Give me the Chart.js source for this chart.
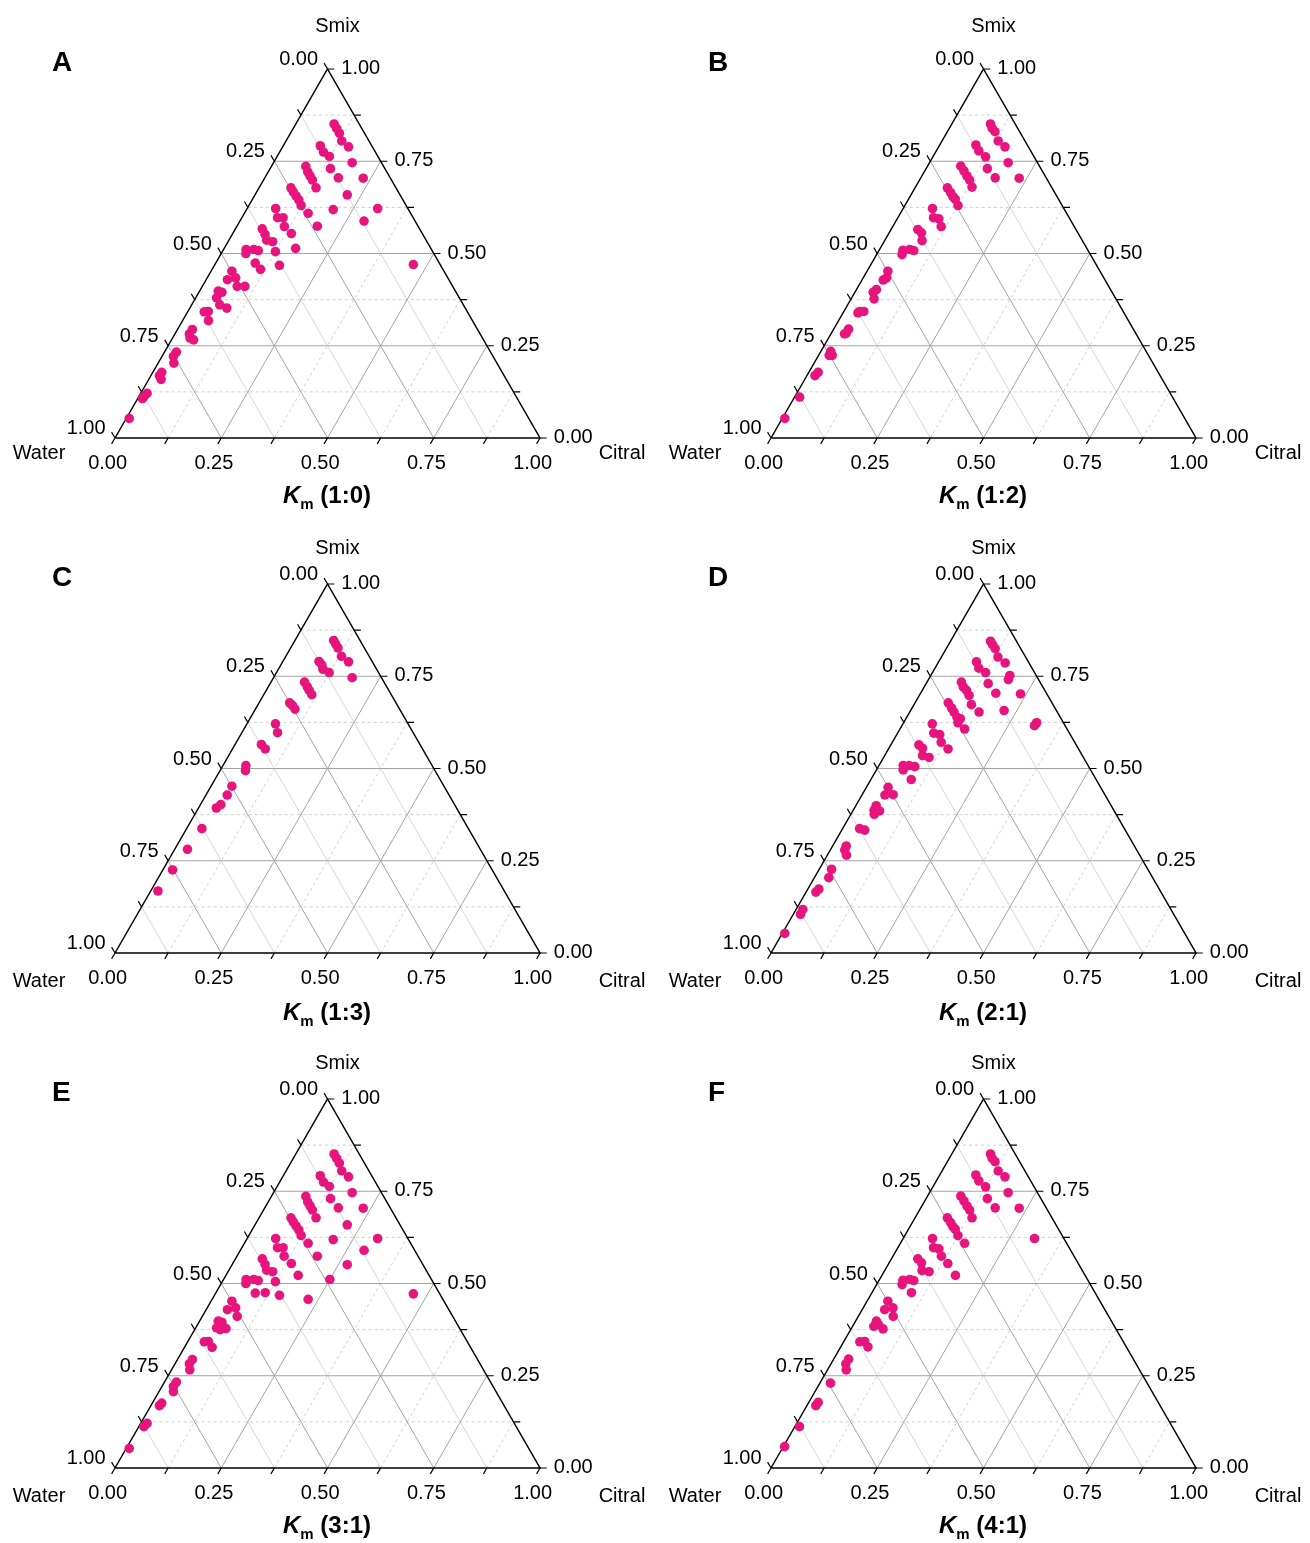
<!DOCTYPE html>
<html><head><meta charset="utf-8">
<script src="https://cdn.jsdelivr.net/npm/chart.js"></script>
<style>
html,body{margin:0;padding:0;background:#fff;}
body{width:1310px;height:1543px;position:relative;overflow:hidden;font-family:"Liberation Sans",Arial,sans-serif;color:#000;}
.panel{position:absolute;width:655px;height:515px;}
.panel canvas{position:absolute;left:0;top:0;}
.letter{position:absolute;left:52px;top:48px;font-weight:bold;font-size:28px;line-height:28px;}
.ttl{position:absolute;left:177px;width:300px;text-align:center;font-weight:bold;font-size:24px;line-height:24px;white-space:nowrap;}
.ttl sub{font-size:15px;line-height:0;vertical-align:baseline;position:relative;top:6px;}
</style></head><body>
<script>
// ---------- labels ----------
const panelLetters = ['A','B','C','D','E','F'];
const ratioLabels  = ['1:0','1:2','1:3','2:1','3:1','4:1'];
const axisNames    = ['Water','Citral','Smix'];
const tickValues   = [0, 0.25, 0.5, 0.75, 1];
const tickLabels   = ['0.00','0.25','0.50','0.75','1.00'];
const majorValues  = [0.25, 0.5, 0.75];
const minorValues  = [0.125, 0.375, 0.625, 0.875];
const allTicks     = [0, 0.125, 0.25, 0.375, 0.5, 0.625, 0.75, 0.875, 1];

// ---------- data: mass fractions (Water = 1 - Citral - Smix) ----------
const citralA = [0.090,0.102,0.115,0.131,0.155,0.087,0.103,0.123,0.185,0.142,0.081,0.093,0.104,0.115,0.134,0.173,0.232,0.217,0.075,0.086,0.098,0.110,0.123,0.150,0.204,0.307,0.292,0.189,0.067,0.084,0.097,0.112,0.138,0.063,0.077,0.089,0.105,0.125,0.168,0.053,0.058,0.071,0.083,0.093,0.114,0.153,0.467,0.049,0.050,0.067,0.082,0.100,0.044,0.054,0.049,0.066,0.087,0.039,0.048,0.061,0.035,0.034,0.041,0.052,0.028,0.027,0.037,0.021,0.020,0.029,0.015,0.012,0.011,0.007];
const smixA   = [0.851,0.839,0.826,0.805,0.789,0.792,0.775,0.763,0.746,0.730,0.736,0.721,0.710,0.699,0.678,0.705,0.704,0.659,0.678,0.667,0.656,0.645,0.630,0.609,0.619,0.622,0.588,0.574,0.622,0.597,0.597,0.573,0.554,0.567,0.552,0.536,0.532,0.505,0.514,0.511,0.500,0.511,0.508,0.474,0.457,0.468,0.470,0.452,0.429,0.434,0.411,0.411,0.398,0.395,0.380,0.361,0.352,0.342,0.343,0.318,0.294,0.282,0.271,0.266,0.233,0.221,0.203,0.178,0.169,0.159,0.121,0.112,0.107,0.053];

const citralB = [0.091,0.101,0.112,0.132,0.156,0.085,0.100,0.124,0.185,0.144,0.078,0.092,0.106,0.118,0.133,0.175,0.232,0.076,0.090,0.101,0.110,0.125,0.069,0.084,0.098,0.114,0.063,0.076,0.088,0.056,0.060,0.071,0.082,0.049,0.055,0.050,0.047,0.043,0.054,0.037,0.047,0.035,0.035,0.035,0.032,0.023,0.025,0.032,0.022,0.019,0.012,0.006];
const smixB   = [0.851,0.839,0.830,0.805,0.789,0.794,0.778,0.762,0.746,0.730,0.737,0.724,0.710,0.699,0.680,0.705,0.704,0.678,0.665,0.654,0.647,0.630,0.622,0.597,0.594,0.573,0.565,0.556,0.535,0.509,0.497,0.511,0.508,0.452,0.434,0.428,0.402,0.395,0.377,0.343,0.343,0.339,0.295,0.284,0.282,0.235,0.224,0.224,0.178,0.169,0.111,0.053];

const citralC = [0.091,0.100,0.111,0.131,0.155,0.085,0.096,0.105,0.124,0.185,0.079,0.092,0.101,0.113,0.072,0.082,0.093,0.067,0.084,0.062,0.077,0.054,0.060,0.049,0.050,0.048,0.042,0.036,0.030,0.023,0.017];
const smixC   = [0.847,0.838,0.827,0.804,0.789,0.790,0.781,0.769,0.760,0.746,0.734,0.721,0.712,0.700,0.678,0.671,0.661,0.621,0.597,0.565,0.553,0.508,0.494,0.452,0.428,0.402,0.393,0.337,0.281,0.225,0.168];

const citralD = [0.094,0.103,0.115,0.133,0.158,0.089,0.103,0.125,0.186,0.188,0.146,0.081,0.092,0.104,0.117,0.135,0.163,0.177,0.236,0.220,0.078,0.093,0.104,0.118,0.128,0.128,0.152,0.313,0.312,0.069,0.085,0.101,0.115,0.140,0.066,0.079,0.089,0.107,0.057,0.063,0.071,0.086,0.095,0.051,0.054,0.073,0.048,0.049,0.063,0.055,0.040,0.054,0.032,0.034,0.045,0.029,0.034,0.026,0.023,0.016,0.017,0.006];
const smixD   = [0.845,0.836,0.825,0.802,0.786,0.789,0.772,0.760,0.752,0.741,0.730,0.734,0.721,0.712,0.698,0.673,0.653,0.704,0.702,0.657,0.678,0.664,0.653,0.639,0.635,0.624,0.607,0.624,0.616,0.621,0.596,0.592,0.571,0.553,0.564,0.555,0.535,0.530,0.508,0.496,0.508,0.505,0.470,0.449,0.428,0.429,0.399,0.387,0.385,0.376,0.337,0.333,0.290,0.279,0.265,0.227,0.204,0.173,0.165,0.118,0.105,0.053];

const citralE = [0.090,0.102,0.115,0.131,0.155,0.087,0.103,0.123,0.185,0.142,0.081,0.093,0.104,0.115,0.134,0.173,0.232,0.217,0.075,0.086,0.098,0.110,0.123,0.150,0.204,0.307,0.291,0.189,0.271,0.250,0.067,0.084,0.097,0.111,0.138,0.170,0.063,0.077,0.089,0.105,0.125,0.053,0.058,0.071,0.083,0.093,0.116,0.153,0.226,0.466,0.049,0.050,0.067,0.082,0.044,0.054,0.049,0.060,0.072,0.039,0.048,0.065,0.035,0.034,0.043,0.028,0.027,0.034,0.022,0.020,0.015,0.012,0.007];
const smixE   = [0.851,0.839,0.826,0.805,0.789,0.792,0.775,0.763,0.746,0.730,0.736,0.721,0.710,0.699,0.678,0.705,0.704,0.659,0.678,0.667,0.656,0.645,0.630,0.609,0.619,0.622,0.590,0.574,0.551,0.511,0.622,0.597,0.597,0.574,0.554,0.522,0.567,0.552,0.536,0.532,0.505,0.511,0.500,0.511,0.508,0.474,0.475,0.468,0.457,0.472,0.452,0.429,0.434,0.411,0.398,0.395,0.380,0.375,0.378,0.342,0.343,0.327,0.294,0.282,0.266,0.233,0.221,0.207,0.176,0.169,0.121,0.112,0.053];

const citralF = [0.091,0.101,0.112,0.132,0.156,0.085,0.100,0.124,0.185,0.144,0.175,0.232,0.078,0.092,0.106,0.118,0.134,0.076,0.090,0.101,0.110,0.125,0.151,0.309,0.069,0.084,0.098,0.114,0.139,0.062,0.076,0.088,0.106,0.173,0.056,0.060,0.071,0.082,0.093,0.049,0.053,0.070,0.082,0.049,0.050,0.058,0.075,0.038,0.049,0.064,0.035,0.035,0.044,0.025,0.022,0.021,0.011,0.003];
const smixF   = [0.851,0.839,0.830,0.805,0.789,0.794,0.778,0.762,0.746,0.730,0.705,0.704,0.737,0.724,0.710,0.699,0.678,0.678,0.665,0.654,0.647,0.630,0.609,0.622,0.622,0.597,0.594,0.574,0.554,0.567,0.556,0.535,0.532,0.522,0.509,0.497,0.511,0.508,0.475,0.452,0.429,0.434,0.411,0.398,0.384,0.389,0.377,0.342,0.343,0.328,0.295,0.282,0.266,0.230,0.178,0.169,0.112,0.058];

const panelCitral = [citralA, citralB, citralC, citralD, citralE, citralF];
const panelSmix   = [smixA, smixB, smixC, smixD, smixE, smixF];

// ---------- ternary helpers ----------
const SQ = Math.sqrt(3) / 2;
const TL = 0.016; // tick length (fraction of side)
function tern(c, s) { return { x: c + s / 2, y: s * SQ }; }
function edgeBottom(v) { return tern(v, 0); }      // Citral axis
function edgeLeft(v)   { return tern(0, 1 - v); }  // Water axis
function edgeRight(v)  { return tern(1 - v, v); }  // Smix axis
const DIR = { bottom: { x: -0.5, y: -SQ }, left: { x: -0.5, y: SQ }, right: { x: 1, y: 0 } };
const GAP = { x: null, y: null };
function seg(arr, p, q) { arr.push(p, q, GAP); }
function off(p, d) { return { x: p.x + d.x * TL, y: p.y + d.y * TL }; }

function gridSets(vals) {
  const h = [], cit = [], wat = [];
  vals.forEach(v => {
    seg(h,   tern(0, v), tern(1 - v, v));
    seg(cit, tern(v, 0), tern(v, 1 - v));
    seg(wat, tern(1 - v, 0), tern(0, 1 - v));
  });
  return { h, cit, wat };
}
function tickSet() {
  const t = [];
  allTicks.forEach(v => {
    seg(t, edgeBottom(v), off(edgeBottom(v), DIR.bottom));
    seg(t, edgeLeft(v),   off(edgeLeft(v),   DIR.left));
    seg(t, edgeRight(v),  off(edgeRight(v),  DIR.right));
  });
  return t;
}
function lineDs(data, color, width, order, dash) {
  return { type: 'scatter', data, showLine: true, borderColor: color, borderWidth: width,
           borderDash: dash || [], pointRadius: 0, pointHoverRadius: 0, spanGaps: false,
           clip: false, order, fill: false };
}

const FONT = '20px "Liberation Sans", Arial, sans-serif';
const labelPlugin = {
  id: 'ternLabels',
  afterDraw(chart) {
    const o = chart.options.plugins.ternLabels;
    const ctx = chart.ctx, sx = chart.scales.x, sy = chart.scales.y;
    const px = p => ({ x: sx.getPixelForValue(p.x), y: sy.getPixelForValue(p.y) });
    ctx.save();
    ctx.fillStyle = '#000';
    ctx.font = FONT;
    ctx.textBaseline = 'alphabetic';
    tickValues.forEach((v, k) => {
      const lab = tickLabels[k];
      let e = px(off(edgeBottom(v), DIR.bottom));
      ctx.textAlign = 'center';
      ctx.fillText(lab, e.x - 4, e.y + 25);
      e = px(off(edgeLeft(v), DIR.left));
      ctx.textAlign = 'right';
      ctx.fillText(lab, e.x - 6, e.y + 2);
      e = px(off(edgeRight(v), DIR.right));
      ctx.textAlign = 'left';
      ctx.fillText(lab, e.x + 7, e.y + 5);
    });
    const apex = px(tern(0, 1)), bl = px(tern(0, 0)), br = px(tern(1, 0));
    ctx.textAlign = 'center';
    ctx.fillText(axisNames[2], apex.x + 10, o.smixY);
    ctx.fillText(axisNames[0], bl.x - 76, o.wcY);
    ctx.fillText(axisNames[1], br.x + 82, o.wcY);
    ctx.restore();
  }
};

const major = gridSets(majorValues);
const minor = gridSets(minorValues);
const ticks = tickSet();
const border = [tern(0, 0), tern(1, 0), tern(0, 1), tern(0, 0)];

for (let i = 0; i < 6; i++) {
  const row = Math.floor(i / 2), col = i % 2;
  const div = document.createElement('div');
  div.className = 'panel';
  div.style.left = (col * 656) + 'px';
  div.style.top = (row * 515) + 'px';
  const cv = document.createElement('canvas');
  cv.width = 655; cv.height = 515;
  div.appendChild(cv);
  const letter = document.createElement('div');
  letter.className = 'letter';
  letter.textContent = panelLetters[i];
  div.appendChild(letter);
  const ttl = document.createElement('div');
  ttl.className = 'ttl';
  ttl.style.top = (row === 1 ? 485 : 483) + 'px';
  ttl.innerHTML = '<i>K</i><sub>m</sub> (' + ratioLabels[i] + ')';
  div.appendChild(ttl);
  document.body.appendChild(div);

  const pts = panelCitral[i].map((c, k) => tern(c, panelSmix[i][k]));
  new Chart(cv, {
    type: 'scatter',
    data: {
      datasets: [
        { type: 'scatter', data: pts, pointRadius: 4.8, pointHoverRadius: 4.8, pointBackgroundColor: '#e8147d',
          backgroundColor: '#e8147d', pointBorderWidth: 0, borderWidth: 0, clip: false, order: 0 },
        lineDs(border, '#000', 1.5, 1),
        lineDs(ticks, '#000', 1.2, 2),
        lineDs(major.h.concat(major.cit, major.wat), '#a3a3a3', 1, 3),
        lineDs(minor.wat, '#d6d6d6', 1, 4),
        lineDs(minor.h.concat(minor.cit), '#cfcfcf', 1, 5, [3, 3])
      ]
    },
    options: {
      responsive: false, animation: false, devicePixelRatio: 1, events: [],
      layout: { padding: { left: 115, right: 115, top: 69, bottom: 77 } },
      scales: {
        x: { type: 'linear', min: 0, max: 1, display: false },
        y: { type: 'linear', min: 0, max: SQ, display: false }
      },
      plugins: {
        legend: { display: false }, tooltip: { enabled: false }, title: { display: false },
        ternLabels: { smixY: row === 0 ? 32 : 39, wcY: row === 0 ? 459 : 472 }
      }
    },
    plugins: [labelPlugin]
  });
}
</script>
</body></html>
